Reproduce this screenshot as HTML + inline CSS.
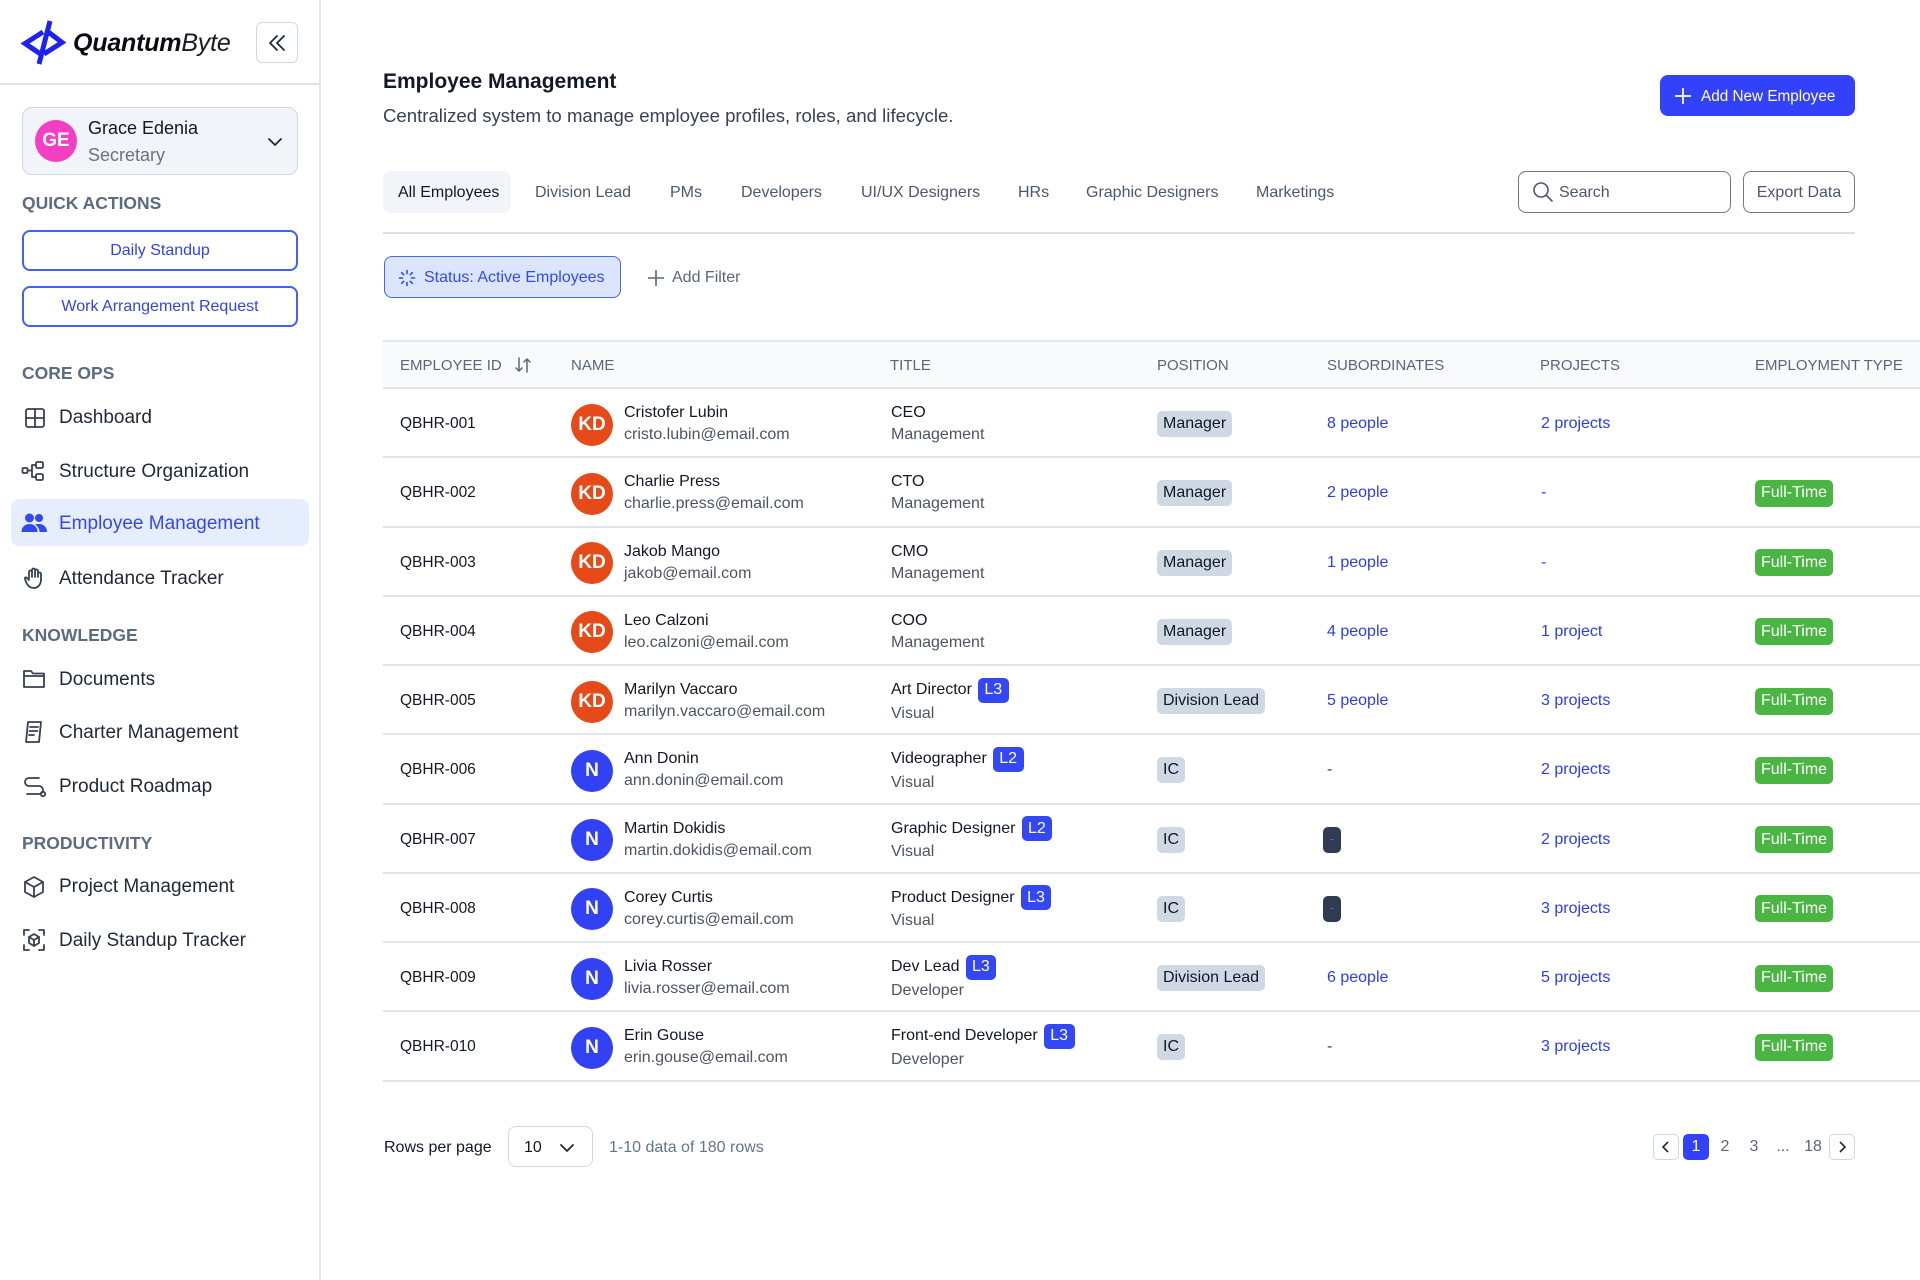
<!DOCTYPE html>
<html><head><meta charset="utf-8">
<style>
*{margin:0;padding:0;box-sizing:border-box}
body{width:1920px;height:1280px;background:#fff;font-family:"Liberation Sans",Arial,sans-serif;color:#111827;position:relative;overflow:hidden}
.a{position:absolute}
.r{position:absolute;height:30px;display:flex;align-items:center;white-space:nowrap}
.sec{font-size:17.5px;font-weight:bold;color:#5b6b80;left:22px}
.nav{font-size:19px;color:#1f2937;left:59px}
.ic{position:absolute;fill:none;stroke:#374151;stroke-width:1.8;stroke-linecap:round;stroke-linejoin:round}
.qa{position:absolute;left:22px;width:276px;height:41px;border:2px solid #4360f5;border-radius:8px;display:flex;align-items:center;justify-content:center;color:#2f44f0;font-size:16px}
.tab{font-size:16px;color:#4b5870;top:178px}
.row{position:absolute;left:383px;width:1537px;height:69.25px;background:linear-gradient(to top,#dfe5ee 2px,transparent 2px)}
.c{position:absolute;top:0;height:70px;display:flex;align-items:center;white-space:nowrap;font-size:16px}
.c2{position:absolute;top:0;height:70px;display:flex;flex-direction:column;justify-content:center;white-space:nowrap;font-size:16px}
.l1{height:22px;display:flex;align-items:center;color:#111827}
.l1.b{height:25px}
.l2{height:22px;display:flex;align-items:center;color:#4b5563}
.av{position:absolute;left:188px;top:14.5px;width:42px;height:42px;border-radius:50%;color:#fff;font-weight:bold;font-size:19px;display:flex;align-items:center;justify-content:center}
.kd{background:#e64a19}
.nn{background:#3341f5}
.pb{background:#cfd8e3;border-radius:5px;height:26px;padding:0 6px;display:flex;align-items:center;color:#111827}
.ft{background:#4bb543;color:#fff;border-radius:5px;height:27px;padding:0 6px;display:flex;align-items:center}
.lv{background:#3347f5;color:#fff;border-radius:5px;height:25px;padding:0 6.5px;margin-left:6px;display:inline-flex;align-items:center}
.lk{color:#2b3cf2}
.gr{color:#374151}
.th{position:absolute;top:341px;height:48px;display:flex;align-items:center;font-size:15px;color:#5b6678;white-space:nowrap}
.dk{width:18px;height:26px;background:#2f3b4e;border-radius:5px;position:relative}
.dk:after{content:"";position:absolute;left:7px;top:12px;width:4px;height:1.5px;background:#3b5bff}
.pg{position:absolute;top:1134px;height:26px;display:flex;align-items:center;justify-content:center;font-size:16px;color:#5b6678}
.id{font-size:15.5px}
</style></head><body>

<!-- Sidebar -->
<div class="a" style="left:319px;top:0;width:2px;height:1280px;background:#dfe5ee"></div>
<div class="a" style="left:0;top:83px;width:320px;height:2px;background:#dfe5ee"></div>

<svg class="a" style="left:0;top:0" width="80" height="80" viewBox="0 0 80 80">
<g fill="none" stroke="#1d22f0" stroke-width="5" stroke-linejoin="miter" stroke-linecap="butt">
<path d="M43 32 L25 43.5 L42 55"/>
<path d="M47 31 L62 42.5 L44 54"/>
<path d="M50 21 L39 64"/>
</g></svg>
<div class="r" style="left:73px;top:28px;font-size:25px;font-style:italic;letter-spacing:-0.2px"><b style="font-weight:700;color:#0b0b14">Quantum</b><span style="font-weight:400;color:#1a1a22">Byte</span></div>

<div class="a" style="left:256px;top:22px;width:42px;height:41px;border:1.5px solid #cfd7e3;border-radius:6px"></div>
<svg class="ic" style="left:266px;top:32px;stroke:#1f2937;stroke-width:1.8" width="22" height="22" viewBox="0 0 22 22"><path d="M11 4L4 11l7 7M18 4l-7 7 7 7"/></svg>

<div class="a" style="left:22px;top:107px;width:276px;height:68px;background:#f1f4f9;border:1.5px solid #cfd7e3;border-radius:10px"></div>
<div class="a" style="left:35px;top:120px;width:42px;height:42px;border-radius:50%;background:#f43fc4;color:#fff;font-weight:bold;font-size:19px;display:flex;align-items:center;justify-content:center">GE</div>
<div class="r" style="left:88px;top:113px;font-size:18px;color:#111827">Grace Edenia</div>
<div class="r" style="left:88px;top:140px;font-size:18px;color:#6b7280">Secretary</div>
<svg class="ic" style="left:267px;top:135px;stroke:#1f2937" width="16" height="14" viewBox="0 0 16 14"><path d="M2 4l6 6 6-6"/></svg>

<div class="r sec" style="top:188px">QUICK ACTIONS</div>
<div class="qa" style="top:230px">Daily Standup</div>
<div class="qa" style="top:286px">Work Arrangement Request</div>

<div class="r sec" style="top:358px">CORE OPS</div>
<svg class="ic" style="left:24px;top:407px" width="22" height="22" viewBox="0 0 22 22"><rect x="2" y="2" width="18" height="18" rx="2"/><path d="M11 2v18M2 11h18"/></svg>
<div class="r nav" style="top:402.5px">Dashboard</div>

<svg class="ic" style="left:21px;top:460px" width="26" height="22" viewBox="0 0 26 22"><rect x="1.5" y="8" width="5" height="5" rx="1"/><rect x="15" y="2" width="7" height="6" rx="1.5"/><rect x="15" y="14" width="7" height="6" rx="1.5"/><path d="M6.5 10.5h4.5M11 5v12M11 5h4M11 17h4"/></svg>
<div class="r nav" style="top:456.5px">Structure Organization</div>

<div class="a" style="left:11px;top:499px;width:298px;height:47px;background:#e6eefd;border-radius:8px"></div>
<svg class="a" style="left:21px;top:512px" width="27" height="22" viewBox="0 0 27 22" fill="#3348f5"><circle cx="8.5" cy="6" r="4.5"/><path d="M0.5 20c0-5 3.5-8 8-8s8 3 8 8z"/><circle cx="18" cy="6" r="4"/><path d="M14 12.5c1-.4 2.5-.5 4-.5 4.5 0 8 3 8 8h-7.5c0-3-1.5-5.5-4.5-7.5z"/></svg>
<div class="r nav" style="top:509px;color:#3348f5">Employee Management</div>

<svg class="ic" style="left:22px;top:566px" width="24" height="24" viewBox="0 0 24 24"><path d="M7 12V6a1.5 1.5 0 013 0v5M10 10V4a1.5 1.5 0 013 0v7M13 10V5a1.5 1.5 0 013 0v6M16 10V8a1.5 1.5 0 013 0v6c0 4-3 8-7 8s-6-2-7.5-5L3 13c-.5-1 .5-2 1.5-1.5L7 14"/></svg>
<div class="r nav" style="top:563.5px">Attendance Tracker</div>

<div class="r sec" style="top:620px">KNOWLEDGE</div>
<svg class="ic" style="left:22px;top:668px" width="24" height="22" viewBox="0 0 24 22"><path d="M2 3h7l2 2.5h11V19H2z"/><path d="M2 8h20"/></svg>
<div class="r nav" style="top:664.5px">Documents</div>

<svg class="ic" style="left:23px;top:720px" width="22" height="24" viewBox="0 0 22 24"><path d="M5 2h13l-2 20H3z"/><path d="M7 7h8M6.5 11h8M6 15h5"/></svg>
<div class="r nav" style="top:717.5px">Charter Management</div>

<svg class="ic" style="left:22px;top:775px" width="26" height="22" viewBox="0 0 26 22"><path d="M17 3H7a4 4 0 000 8h10a4 4 0 010 8H5"/><circle cx="21" cy="19" r="2.2"/></svg>
<div class="r nav" style="top:771.5px">Product Roadmap</div>

<div class="r sec" style="top:828px">PRODUCTIVITY</div>
<svg class="ic" style="left:22px;top:875px" width="24" height="24" viewBox="0 0 24 24"><path d="M12 2l9 5v10l-9 5-9-5V7z"/><path d="M3 7l9 5 9-5M12 12v10"/></svg>
<div class="r nav" style="top:872px">Project Management</div>

<svg class="ic" style="left:22px;top:928px" width="24" height="24" viewBox="0 0 24 24"><path d="M2 7V2h5M17 2h5v5M22 17v5h-5M7 22H2v-5"/><path d="M12 6l5 3v6l-5 3-5-3V9z"/><path d="M7 9l5 3 5-3M12 12v6"/></svg>
<div class="r nav" style="top:925.5px">Daily Standup Tracker</div>

<!-- Header -->
<div class="r" style="left:383px;top:67px;font-size:21px;font-weight:bold;color:#111827">Employee Management</div>
<div class="r" style="left:383px;top:100.5px;font-size:18.6px;color:#374151">Centralized system to manage employee profiles, roles, and lifecycle.</div>

<div class="a" style="left:1660px;top:75px;width:195px;height:41px;background:#3341fb;border-radius:8px"></div>
<svg class="a" style="left:1674px;top:87px" width="18" height="18" viewBox="0 0 18 18"><path d="M9 1v16M1 9h16" stroke="#fff" stroke-width="1.8"/></svg>
<div class="r" style="left:1701px;top:82px;font-size:15.3px;color:#fff">Add New Employee</div>

<!-- Tabs -->
<div class="a" style="left:383px;top:171px;width:128px;height:42px;background:#f1f4f8;border-radius:8px"></div>
<div class="r tab" style="left:398px;color:#111827">All Employees</div>
<div class="r tab" style="left:535px">Division Lead</div>
<div class="r tab" style="left:670px">PMs</div>
<div class="r tab" style="left:741px">Developers</div>
<div class="r tab" style="left:861px">UI/UX Designers</div>
<div class="r tab" style="left:1018px">HRs</div>
<div class="r tab" style="left:1086px">Graphic Designers</div>
<div class="r tab" style="left:1256px">Marketings</div>

<div class="a" style="left:1518px;top:171px;width:213px;height:42px;border:1.5px solid #6b7a90;border-radius:8px"></div>
<svg class="ic" style="left:1532px;top:181px;stroke:#4b5870;stroke-width:1.6" width="22" height="22" viewBox="0 0 22 22"><circle cx="9" cy="9" r="7"/><path d="M14 14l6 6"/></svg>
<div class="r" style="left:1559px;top:178px;font-size:16px;color:#4b5870">Search</div>
<div class="a" style="left:1743px;top:171px;width:112px;height:42px;border:1.5px solid #6b7a90;border-radius:8px;display:flex;align-items:center;justify-content:center;font-size:16px;color:#4b5870;padding-top:2px">Export Data</div>

<div class="a" style="left:383px;top:232px;width:1472px;height:2px;background:#d9e0ea"></div>

<!-- Filters -->
<div class="a" style="left:384px;top:256px;width:237px;height:42px;background:#dbe6fe;border:1.5px solid #4a64f5;border-radius:8px"></div>
<svg class="a" style="left:398px;top:269px" width="18" height="18" viewBox="0 0 18 18" stroke="#3548f0" stroke-width="1.6" stroke-linecap="round"><path d="M9 1.5v3M9 13.5v3M1.5 9h3M13.5 9h3M3.7 3.7l2 2M12.3 12.3l2 2M3.7 14.3l2-2M12.3 5.7l2-2"/></svg>
<div class="r" style="left:424px;top:263px;font-size:16px;color:#3548f0">Status: Active Employees</div>
<svg class="a" style="left:647px;top:269px" width="18" height="18" viewBox="0 0 18 18"><path d="M9 1v16M1 9h16" stroke="#5b6678" stroke-width="1.6"/></svg>
<div class="r" style="left:672px;top:263px;font-size:16px;color:#5b6678">Add Filter</div>

<!-- Table header -->
<div class="a" style="left:383px;top:340px;width:1537px;height:49px;background:#f8fafc;border-top:2px solid #e2e8f0;border-bottom:2px solid #dfe5ee"></div>
<div class="th" style="left:400px">EMPLOYEE ID</div>
<svg class="a" style="left:514px;top:356px" width="18" height="18" viewBox="0 0 18 18" fill="none" stroke="#5b6678" stroke-width="1.5" stroke-linecap="round" stroke-linejoin="round"><path d="M5 2v13M2 12l3 3 3-3M13 16V3M10 6l3-3 3 3"/></svg>
<div class="th" style="left:571px">NAME</div>
<div class="th" style="left:890px">TITLE</div>
<div class="th" style="left:1157px">POSITION</div>
<div class="th" style="left:1327px">SUBORDINATES</div>
<div class="th" style="left:1540px">PROJECTS</div>
<div class="th" style="left:1755px">EMPLOYMENT TYPE</div>

<!-- Rows -->
<div class="row" style="top:389px">
 <div class="c id" style="left:17px">QBHR-001</div>
 <div class="av kd">KD</div>
 <div class="c2" style="left:241px"><div class="l1">Cristofer Lubin</div><div class="l2">cristo.lubin@email.com</div></div>
 <div class="c2" style="left:508px"><div class="l1">CEO</div><div class="l2">Management</div></div>
 <div class="c" style="left:774px"><span class="pb">Manager</span></div>
 <div class="c lk" style="left:944px">8 people</div>
 <div class="c lk" style="left:1158px">2 projects</div>
</div>

<div class="row" style="top:458.25px">
 <div class="c id" style="left:17px">QBHR-002</div>
 <div class="av kd">KD</div>
 <div class="c2" style="left:241px"><div class="l1">Charlie Press</div><div class="l2">charlie.press@email.com</div></div>
 <div class="c2" style="left:508px"><div class="l1">CTO</div><div class="l2">Management</div></div>
 <div class="c" style="left:774px"><span class="pb">Manager</span></div>
 <div class="c lk" style="left:944px">2 people</div>
 <div class="c lk" style="left:1158px">-</div>
 <div class="c" style="left:1372px"><span class="ft">Full-Time</span></div>
</div>

<div class="row" style="top:527.5px">
 <div class="c id" style="left:17px">QBHR-003</div>
 <div class="av kd">KD</div>
 <div class="c2" style="left:241px"><div class="l1">Jakob Mango</div><div class="l2">jakob@email.com</div></div>
 <div class="c2" style="left:508px"><div class="l1">CMO</div><div class="l2">Management</div></div>
 <div class="c" style="left:774px"><span class="pb">Manager</span></div>
 <div class="c lk" style="left:944px">1 people</div>
 <div class="c lk" style="left:1158px">-</div>
 <div class="c" style="left:1372px"><span class="ft">Full-Time</span></div>
</div>

<div class="row" style="top:596.75px">
 <div class="c id" style="left:17px">QBHR-004</div>
 <div class="av kd">KD</div>
 <div class="c2" style="left:241px"><div class="l1">Leo Calzoni</div><div class="l2">leo.calzoni@email.com</div></div>
 <div class="c2" style="left:508px"><div class="l1">COO</div><div class="l2">Management</div></div>
 <div class="c" style="left:774px"><span class="pb">Manager</span></div>
 <div class="c lk" style="left:944px">4 people</div>
 <div class="c lk" style="left:1158px">1 project</div>
 <div class="c" style="left:1372px"><span class="ft">Full-Time</span></div>
</div>

<div class="row" style="top:666px">
 <div class="c id" style="left:17px">QBHR-005</div>
 <div class="av kd">KD</div>
 <div class="c2" style="left:241px"><div class="l1">Marilyn Vaccaro</div><div class="l2">marilyn.vaccaro@email.com</div></div>
 <div class="c2" style="left:508px"><div class="l1 b">Art Director<span class="lv">L3</span></div><div class="l2">Visual</div></div>
 <div class="c" style="left:774px"><span class="pb">Division Lead</span></div>
 <div class="c lk" style="left:944px">5 people</div>
 <div class="c lk" style="left:1158px">3 projects</div>
 <div class="c" style="left:1372px"><span class="ft">Full-Time</span></div>
</div>

<div class="row" style="top:735.25px">
 <div class="c id" style="left:17px">QBHR-006</div>
 <div class="av nn">N</div>
 <div class="c2" style="left:241px"><div class="l1">Ann Donin</div><div class="l2">ann.donin@email.com</div></div>
 <div class="c2" style="left:508px"><div class="l1 b">Videographer<span class="lv">L2</span></div><div class="l2">Visual</div></div>
 <div class="c" style="left:774px"><span class="pb">IC</span></div>
 <div class="c gr" style="left:944px">-</div>
 <div class="c lk" style="left:1158px">2 projects</div>
 <div class="c" style="left:1372px"><span class="ft">Full-Time</span></div>
</div>

<div class="row" style="top:804.5px">
 <div class="c id" style="left:17px">QBHR-007</div>
 <div class="av nn">N</div>
 <div class="c2" style="left:241px"><div class="l1">Martin Dokidis</div><div class="l2">martin.dokidis@email.com</div></div>
 <div class="c2" style="left:508px"><div class="l1 b">Graphic Designer<span class="lv">L2</span></div><div class="l2">Visual</div></div>
 <div class="c" style="left:774px"><span class="pb">IC</span></div>
 <div class="c" style="left:940px"><span class="dk"></span></div>
 <div class="c lk" style="left:1158px">2 projects</div>
 <div class="c" style="left:1372px"><span class="ft">Full-Time</span></div>
</div>

<div class="row" style="top:873.75px">
 <div class="c id" style="left:17px">QBHR-008</div>
 <div class="av nn">N</div>
 <div class="c2" style="left:241px"><div class="l1">Corey Curtis</div><div class="l2">corey.curtis@email.com</div></div>
 <div class="c2" style="left:508px"><div class="l1 b">Product Designer<span class="lv">L3</span></div><div class="l2">Visual</div></div>
 <div class="c" style="left:774px"><span class="pb">IC</span></div>
 <div class="c" style="left:940px"><span class="dk"></span></div>
 <div class="c lk" style="left:1158px">3 projects</div>
 <div class="c" style="left:1372px"><span class="ft">Full-Time</span></div>
</div>

<div class="row" style="top:943px">
 <div class="c id" style="left:17px">QBHR-009</div>
 <div class="av nn">N</div>
 <div class="c2" style="left:241px"><div class="l1">Livia Rosser</div><div class="l2">livia.rosser@email.com</div></div>
 <div class="c2" style="left:508px"><div class="l1 b">Dev Lead<span class="lv">L3</span></div><div class="l2">Developer</div></div>
 <div class="c" style="left:774px"><span class="pb">Division Lead</span></div>
 <div class="c lk" style="left:944px">6 people</div>
 <div class="c lk" style="left:1158px">5 projects</div>
 <div class="c" style="left:1372px"><span class="ft">Full-Time</span></div>
</div>

<div class="row" style="top:1012.25px">
 <div class="c id" style="left:17px">QBHR-010</div>
 <div class="av nn">N</div>
 <div class="c2" style="left:241px"><div class="l1">Erin Gouse</div><div class="l2">erin.gouse@email.com</div></div>
 <div class="c2" style="left:508px"><div class="l1 b">Front-end Developer<span class="lv">L3</span></div><div class="l2">Developer</div></div>
 <div class="c" style="left:774px"><span class="pb">IC</span></div>
 <div class="c gr" style="left:944px">-</div>
 <div class="c lk" style="left:1158px">3 projects</div>
 <div class="c" style="left:1372px"><span class="ft">Full-Time</span></div>
</div>

<!-- Pagination -->
<div class="r" style="left:384px;top:1133px;font-size:16px;color:#111827">Rows per page</div>
<div class="a" style="left:508px;top:1126px;width:85px;height:41px;border:1.5px solid #cfd7e3;border-radius:8px"></div>
<div class="r" style="left:524px;top:1133px;font-size:16px;color:#111827">10</div>
<svg class="ic" style="left:558px;top:1141px;stroke:#1f2937" width="18" height="14" viewBox="0 0 18 14"><path d="M3 4l6 6 6-6"/></svg>
<div class="r" style="left:609px;top:1133px;font-size:16px;color:#64748b">1-10 data of 180 rows</div>

<div class="pg" style="left:1653px;width:26px;border:1.5px solid #cfd7e3;border-radius:5px"><svg width="12" height="14" viewBox="0 0 12 14" fill="none" stroke="#1f2937" stroke-width="1.6"><path d="M8 2L3 7l5 5"/></svg></div>
<div class="pg" style="left:1683px;width:26px;background:#3341fb;border-radius:5px;color:#fff">1</div>
<div class="pg" style="left:1715px;width:20px">2</div>
<div class="pg" style="left:1744px;width:20px">3</div>
<div class="pg" style="left:1770px;width:26px">...</div>
<div class="pg" style="left:1800px;width:26px">18</div>
<div class="pg" style="left:1829px;width:26px;border:1.5px solid #cfd7e3;border-radius:5px"><svg width="12" height="14" viewBox="0 0 12 14" fill="none" stroke="#1f2937" stroke-width="1.6"><path d="M4 2l5 5-5 5"/></svg></div>

</body></html>
